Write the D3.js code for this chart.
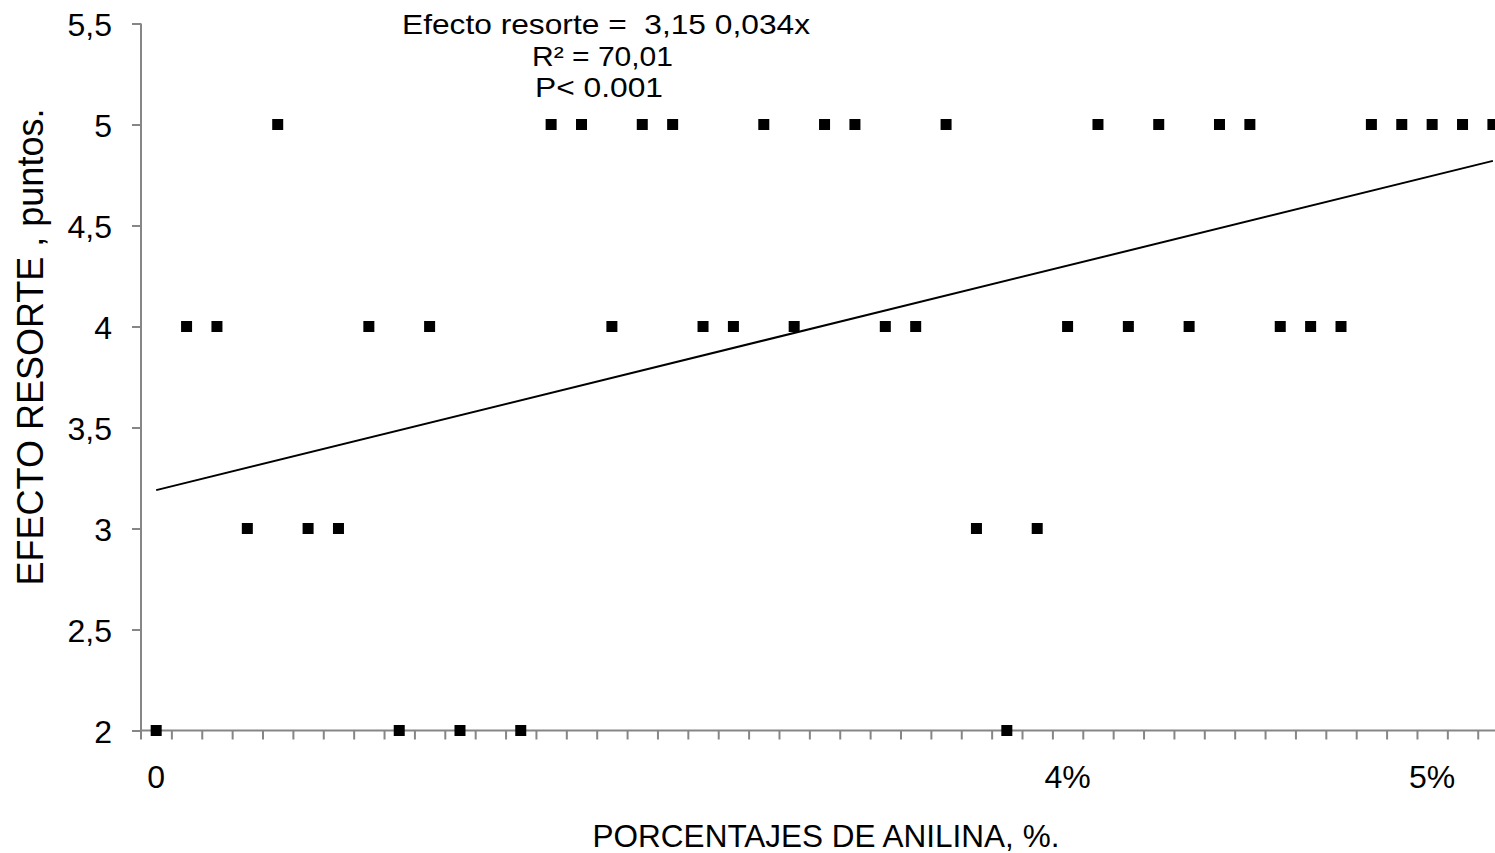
<!DOCTYPE html>
<html>
<head>
<meta charset="utf-8">
<script src="https://cdn.jsdelivr.net/npm/d3@7"></script>
<style>
  html, body { margin: 0; padding: 0; background: #fff; }
  svg { display: block; font-family: "Liberation Sans", Arial, sans-serif; }
</style>
</head>
<body>
<svg id="chart" width="1495" height="853"></svg>
<script>
// Categories (45 positions along the aniline axis); only a few carry a label
const categories = d3.range(45);
const categoryLabels = categories.map(i => i === 0 ? "0" : i === 30 ? "4%" : i === 42 ? "5%" : "");

// Spring-effect score per sample (null where no point is shown)
const springEffect = [
  2, 4, 4, 3, 5, 3, 3, 4, 2, 4,
  2, null, 2, 5, 5, 4, 5, 5, 4, 4,
  5, 4, 5, 5, 4, 4, 5, 3, 2, 3,
  4, 5, 4, 5, 4, 5, 5, 4, 4, 4,
  5, 5, 5, 5, 5
];

// Fitted trend line, value at first and last category
const trendCategories = [0, 44];
const trendValues = [3.19, 4.82];

const yTicks = [2, 2.5, 3, 3.5, 4, 4.5, 5, 5.5];
const equationLines = ["Efecto resorte =  3,15 0,034x", "R² = 70,01", "P< 0.001"];

const svg = d3.select("#chart");
const axisColor = "#868686";

const left = 141, bandW = 30.38;
const xEdge = d3.scaleLinear().domain([0, categories.length]).range([left, left + bandW * categories.length]);
const x = d3.scaleBand().domain(categories).range(xEdge.range());
const y = d3.scaleLinear().domain([2, 5.5]).range([730.5, 23.5]);
const cx = i => x(i) + x.bandwidth() / 2;

// Y axis
const yAxis = svg.append("g")
  .attr("transform", `translate(${left},0)`)
  .call(d3.axisLeft(y).tickValues(yTicks).tickSize(9).tickPadding(20)
    .tickFormat(d => String(d).replace(".", ",")));
yAxis.select(".domain").attr("stroke", axisColor).attr("stroke-width", 2)
  .attr("d", `M0,${y(5.5)}V${y(2) + 9}`);
yAxis.selectAll(".tick line").attr("stroke", axisColor).attr("stroke-width", 2);
yAxis.selectAll(".tick text").attr("font-size", 32).attr("fill", "#000")
  .attr("font-family", "Liberation Sans, Arial, sans-serif").attr("dy", "0.36em");

// X axis: ticks on category boundaries
const xAxis = svg.append("g")
  .attr("transform", `translate(0,${y(2)})`)
  .call(d3.axisBottom(xEdge).tickValues(d3.range(1, categories.length)).tickSize(9).tickFormat(""));
xAxis.select(".domain").attr("stroke", axisColor).attr("stroke-width", 2)
  .attr("d", `M${left},0H${xEdge.range()[1]}`);
xAxis.selectAll(".tick line").attr("stroke", axisColor).attr("stroke-width", 2);

// Category labels centred under their points
svg.append("g").selectAll("text")
  .data(categories.filter(i => categoryLabels[i] !== ""))
  .join("text")
  .attr("x", d => cx(d))
  .attr("y", 788)
  .attr("text-anchor", "middle")
  .attr("font-size", 32)
  .text(d => categoryLabels[d]);

// Trend line
const line = d3.line().x(d => cx(d[0])).y(d => y(d[1]));
svg.append("path")
  .attr("d", line(trendCategories.map((c, i) => [c, trendValues[i]])))
  .attr("fill", "none").attr("stroke", "#000").attr("stroke-width", 2);

// Square markers
const size = 11;
svg.append("g").selectAll("rect")
  .data(categories.filter(i => springEffect[i] != null))
  .join("rect")
  .attr("x", d => cx(d) - size / 2)
  .attr("y", d => y(springEffect[d]) - size / 2)
  .attr("width", size).attr("height", size)
  .attr("fill", "#000");

// Regression annotation (slightly widened glyphs, tight line spacing)
const eqCenters = [606, 602.5, 599];
const eqBaselines = [33.5, 65.5, 97];
const eqWidths = [408, 141, 128];
svg.append("g").selectAll("text")
  .data(equationLines)
  .join("text")
  .attr("x", (d, i) => eqCenters[i])
  .attr("y", (d, i) => eqBaselines[i])
  .attr("text-anchor", "middle")
  .attr("font-size", 28)
  .attr("textLength", (d, i) => eqWidths[i])
  .attr("lengthAdjust", "spacingAndGlyphs")
  .style("white-space", "pre")
  .text(d => d);

// Axis titles
svg.append("text")
  .attr("x", 826).attr("y", 847)
  .attr("text-anchor", "middle")
  .attr("font-size", 31.5)
  .text("PORCENTAJES DE ANILINA, %.");

svg.append("text")
  .attr("transform", "translate(43,347) rotate(-90)")
  .attr("text-anchor", "middle")
  .attr("font-size", 36)
  .text("EFECTO RESORTE , puntos.");
</script>
</body>
</html>
